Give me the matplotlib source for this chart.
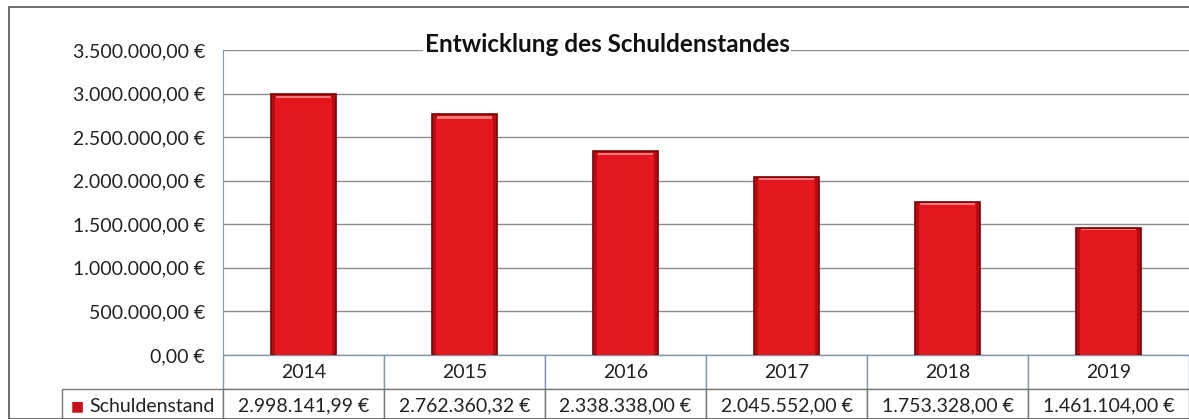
import matplotlib.pyplot as plt
from matplotlib.patches import Rectangle
from matplotlib.table import Table

# Data
years = ['2014', '2015', '2016', '2017', '2018', '2019']
schuldenstand = [2998141.99, 2762360.32, 2338338.00, 2045552.00, 1753328.00, 1461104.00]
table_labels = ['2.998.141,99 €', '2.762.360,32 €', '2.338.338,00 €',
                '2.045.552,00 €', '1.753.328,00 €', '1.461.104,00 €']
yticks = [0, 500000, 1000000, 1500000, 2000000, 2500000, 3000000, 3500000]
ytick_labels = ['0,00 €', '500.000,00 €', '1.000.000,00 €', '1.500.000,00 €',
                '2.000.000,00 €', '2.500.000,00 €', '3.000.000,00 €', '3.500.000,00 €']

plt.rcParams['font.family'] = ['Lato', 'DejaVu Sans']

W, H = 1189, 419
fig = plt.figure(figsize=(W / 100, H / 100), dpi=100)
ax = fig.add_axes([223 / W, (H - 355) / H, 966 / W, 305 / H])

x = range(len(years))
ax.bar(x, schuldenstand, width=0.4, color='#b80c12', edgecolor='#7a0006',
       linewidth=1.2, zorder=3)
# lighter inner face for a bevelled look
ax.bar(x, [v * 0.985 for v in schuldenstand], width=0.36, color='#e3171d',
       linewidth=0, zorder=4)
# top highlight
ax.bar(x, [v * 0.010 for v in schuldenstand], bottom=[v * 0.982 for v in schuldenstand],
       width=0.34, color='#f47a7a', linewidth=0, zorder=5)

ax.set_xlim(-0.5, len(years) - 0.5)
ax.set_ylim(0, 3500000)
ax.set_yticks(yticks)
ax.set_yticklabels(ytick_labels, fontsize=14, color='#222222')
ax.tick_params(axis='y', length=0, pad=13)
ax.set_xticks([])
ax.grid(axis='y', color='#8c8c8c', linewidth=1, zorder=0)
for s in ['top', 'right', 'bottom']:
    ax.spines[s].set_visible(False)
ax.spines['left'].set_color('#7f98b0')

# data table (bbox covers the year columns, the label column sits to the left)
cw, rh = 1 / len(years), 0.1115
tab = Table(ax, bbox=[0, -2 * rh, 1, 2 * rh])
for c in range(len(years)):
    tab.add_cell(0, c, width=cw, height=rh, text=years[c], loc='center',
                 edgecolor='#7f98b0', facecolor='white')
    tab.add_cell(1, c, width=cw, height=rh, text=table_labels[c], loc='center',
                 edgecolor='#777777', facecolor='white')
tab.add_cell(1, -1, width=cw, height=rh, text='Schuldenstand', loc='right',
             edgecolor='#777777', facecolor='white')
tab.auto_set_font_size(False)
tab.set_fontsize(14)
for (r, c), cell in tab.get_celld().items():
    cell.PAD = 0.05
    cell.set_linewidth(1)
    cell.get_text().set_color('#222222')
ax.add_table(tab)
ax.text(-0.158, -0.167, '■', transform=ax.transAxes, color='#c8101a',
        fontsize=10, ha='left', va='center', family='DejaVu Sans', zorder=12)

fig.text(607 / W, (H - 52) / H, 'Entwicklung des Schuldenstandes', ha='center',
         va='baseline', fontsize=17.5, fontweight='bold', color='#111111',
         bbox=dict(facecolor='white', edgecolor='none', pad=1.0), zorder=10)

fig.patches.append(Rectangle((9 / W, 0), 1.2, (H - 7) / H, transform=fig.transFigure,
                             fill=False, edgecolor='#555555', linewidth=1.2))

fig.savefig('out.png', dpi=100)
